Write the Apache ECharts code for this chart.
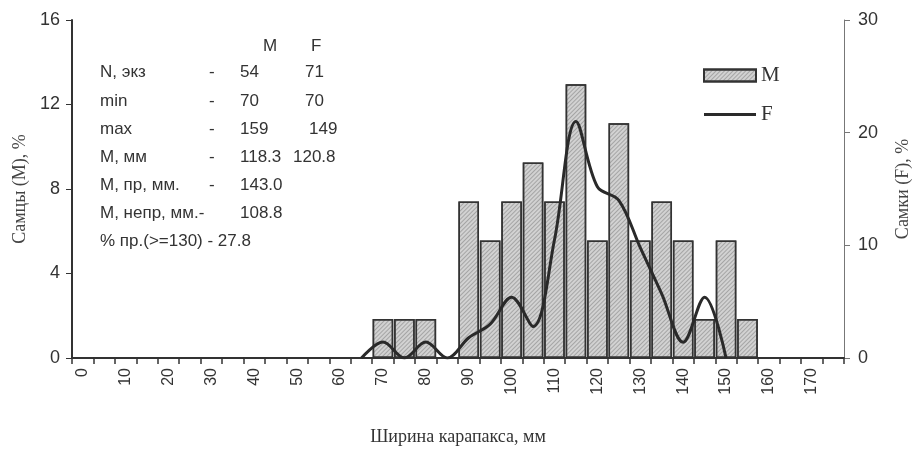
<!DOCTYPE html>
<html>
<head>
<meta charset="utf-8">
<script src="https://cdn.jsdelivr.net/npm/echarts@6/dist/echarts.min.js"></script>
<style>
html,body{margin:0;padding:0;background:#fff;}
#chart{width:920px;height:454px;}
</style>
</head>
<body>
<div id="chart"></div>
<script>
// Carapace width bins (mm), 5 mm step
var categories = ['0','5','10','15','20','25','30','35','40','45','50','55','60','65',
  '70','75','80','85','90','95','100','105','110','115','120','125','130','135','140','145','150','155',
  '160','165','170','175'];
// Males, % (left axis)
var males = [0,0,0,0,0,0,0,0,0,0,0,0,0,0,
  1.85,1.85,1.85,0,7.41,5.56,7.41,9.26,7.41,12.96,5.56,11.11,5.56,7.41,5.56,1.85,5.56,1.85,
  0,0,0,0];
// Females, % (right axis)
var females = [null,null,null,null,null,null,null,null,null,null,null,null,null,0,
  1.41,0,1.41,0,1.8,3.0,5.4,2.8,10.5,21.0,15.2,14.0,9.8,5.7,1.4,5.4,0,null,
  null,null,null,null];
var leftTicks = [0,4,8,12,16];
var rightTicks = [0,10,20,30];

// Stats table
var statHeaders = ['M','F'];
var statLabels = ['N, экз','min','max','M, мм','M, пр, мм.','M, непр, мм.-','% пр.(>=130) - 27.8'];
var statDash = ['-','-','-','-','-','',''];
var statM = ['54','70','159','118.3','143.0','108.8',''];
var statF = ['71','70','149','120.8','','',''];

var sans = '"Liberation Sans", Arial, sans-serif';
var serif = '"Liberation Serif", "Times New Roman", serif';
var txt = '#333';

var rowY = [74,103,131,159,187,215,243];
var fX = [305,305,309,293];
var graphics = [];
graphics.push({type:'text', left:263, top:38, style:{text:statHeaders[0], font:'17px '+sans, fill:txt}});
graphics.push({type:'text', left:311, top:38, style:{text:statHeaders[1], font:'17px '+sans, fill:txt}});
for (var i=0;i<statLabels.length;i++){
  var y = rowY[i]-10;
  graphics.push({type:'text', left:100, top:y, style:{text:statLabels[i], font:'17px '+sans, fill:txt}});
  if (statDash[i]) graphics.push({type:'text', left:209, top:y, style:{text:statDash[i], font:'17px '+sans, fill:txt}});
  if (statM[i]) graphics.push({type:'text', left:240, top:y, style:{text:statM[i], font:'17px '+sans, fill:txt}});
  if (statF[i]) graphics.push({type:'text', left:fX[i], top:y, style:{text:statF[i], font:'17px '+sans, fill:txt}});
}

var chart = echarts.init(document.getElementById('chart'), null, {renderer:'canvas'});
chart.setOption({
  animation:false,
  backgroundColor:'#fff',
  grid:{left:72, right:74, top:20, bottom:96, containLabel:false},
  legend:{
    orient:'vertical', left:698, top:60, itemWidth:52, itemHeight:12, itemGap:18,
    textStyle:{fontFamily:serif, fontSize:21, color:txt, padding:[0,0,0,0]},
    data:[{name:'M', icon:'rect'},{name:'F', icon:'path://M0,0 L52,0 L52,3 L0,3 Z'}]
  },
  xAxis:{
    type:'category', data:categories, boundaryGap:true,
    name:'Ширина карапакса, мм', nameLocation:'middle', nameGap:70,
    nameTextStyle:{fontFamily:serif, fontSize:18, color:txt},
    axisLine:{lineStyle:{color:'#333', width:2}},
    axisTick:{show:true, interval:0, length:6, lineStyle:{color:'#333', width:1.5}},
    axisLabel:{interval:1, rotate:90, margin:10, fontFamily:sans, fontSize:16, color:txt}
  },
  yAxis:[{
    type:'value', min:0, max:16, interval:4, position:'left',
    name:'Самцы (M), %', nameLocation:'middle', nameGap:42, nameRotate:90,
    nameTextStyle:{fontFamily:serif, fontSize:18, color:'#444'},
    axisLine:{show:true, lineStyle:{color:'#333', width:2}},
    axisTick:{show:true, length:6, lineStyle:{color:'#333'}},
    axisLabel:{margin:12, fontFamily:sans, fontSize:18, color:txt},
    splitLine:{show:false}
  },{
    type:'value', min:0, max:30, interval:10, position:'right',
    name:'Самки (F), %', nameLocation:'middle', nameGap:50, nameRotate:90,
    nameTextStyle:{fontFamily:serif, fontSize:18, color:'#444'},
    axisLine:{show:true, lineStyle:{color:'#777', width:1}},
    axisTick:{show:true, length:6, lineStyle:{color:'#777'}},
    axisLabel:{margin:14, fontFamily:sans, fontSize:18, color:txt},
    splitLine:{show:false}
  }],
  series:[{
    name:'M', type:'bar', yAxisIndex:0, data:males, barCategoryGap:'4%',
    itemStyle:{
      color:'#d2d2d2', borderColor:'#333', borderWidth:1.5,
      decal:{symbol:'rect', symbolSize:1, dashArrayX:[1,0], dashArrayY:[1,2], rotation:-Math.PI/4, color:'rgba(80,80,80,0.35)'}
    }
  },{
    name:'F', type:'line', yAxisIndex:1, data:females, smooth:0.35, symbol:'none',
    connectNulls:false, z:5,
    lineStyle:{color:'#2a2a2a', width:3},
    itemStyle:{color:'#2a2a2a'}
  }],
  graphic:graphics
});
</script>
</body>
</html>
